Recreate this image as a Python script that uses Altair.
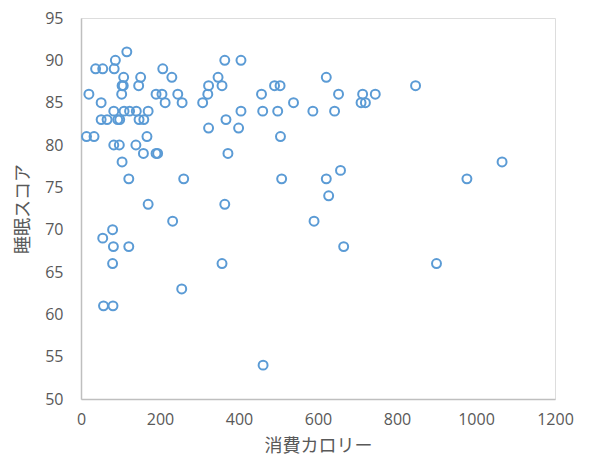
import altair as alt
import pandas as pd

calories = [116,
            87, 364, 405,
            37, 55, 84, 207,
            108, 151, 230, 347, 621,
            104, 107, 146, 323, 357, 490, 504, 847,
            20, 103, 190, 205, 245, 321, 457, 652, 713, 745,
            51, 213, 256, 308, 538, 709, 720,
            83, 109, 123, 140, 170, 405, 460, 498, 587, 642,
            51, 66, 93, 98, 147, 159, 367,
            323, 399,
            14, 33, 167, 505,
            83, 97, 139,
            158, 190, 194, 372,
            104, 1066,
            657,
            121, 260, 508, 621, 977,
            627,
            170, 364,
            232, 590,
            80,
            55,
            82, 121, 665,
            80, 357, 900,
            255,
            57, 81,
            461]
scores = [91,
          90, 90, 90,
          89, 89, 89, 89,
          88, 88, 88, 88, 88,
          87, 87, 87, 87, 87, 87, 87, 87,
          86, 86, 86, 86, 86, 86, 86, 86, 86, 86,
          85, 85, 85, 85, 85, 85, 85,
          84, 84, 84, 84, 84, 84, 84, 84, 84, 84,
          83, 83, 83, 83, 83, 83, 83,
          82, 82,
          81, 81, 81, 81,
          80, 80, 80,
          79, 79, 79, 79,
          78, 78,
          77,
          76, 76, 76, 76, 76,
          74,
          73, 73,
          71, 71,
          70,
          69,
          68, 68, 68,
          66, 66, 66,
          63,
          61, 61,
          54]

x_ticks = [0, 200, 400, 600, 800, 1000, 1200]
y_ticks = [50, 55, 60, 65, 70, 75, 80, 85, 90, 95]

df = pd.DataFrame({"cal": calories, "score": scores})

FONT_NUM = "Open Sans"
FONT_JP = "Noto Sans CJK JP"
GRAY = "#595959"

chart = alt.Chart(df).mark_point(
    shape="circle", filled=False, size=80, strokeWidth=2, color="#5B9BD5", opacity=1
).encode(
    x=alt.X("cal:Q", scale=alt.Scale(domain=[0, 1200], nice=False, zero=False),
            axis=alt.Axis(values=x_ticks, format="d", title="消費カロリー", grid=False, ticks=False,
                          labelFlush=False, labelOverlap=False,
                          labelPadding=12, labelFontSize=16, labelFont=FONT_NUM, labelColor=GRAY,
                          titleFont=FONT_JP, titleFontSize=18, titleFontWeight="normal",
                          titleColor=GRAY, titleY=47, titleBaseline="middle",
                          domainColor="#bfbfbf", domainWidth=1.5)),
    y=alt.Y("score:Q", scale=alt.Scale(domain=[50, 95], nice=False, zero=False),
            axis=alt.Axis(values=y_ticks, title="睡眠スコア", grid=False, ticks=False,
                          labelFlush=False, labelOverlap=False,
                          labelPadding=18, labelFontSize=16, labelFont=FONT_NUM, labelColor=GRAY,
                          titleFont=FONT_JP, titleFontSize=18, titleFontWeight="normal",
                          titleColor=GRAY, titleX=-58, titleBaseline="middle",
                          domainColor="#bfbfbf", domainWidth=1.5)),
).properties(
    width=474, height=381,
    autosize=alt.AutoSizeParams(type="none"),
    padding={"left": 73, "top": 10, "right": 20, "bottom": 60},
).configure_view(stroke="#d9d9d9", strokeWidth=1).configure(background="white")

chart.save("out.html", embed_options={"renderer": "svg", "actions": False})
